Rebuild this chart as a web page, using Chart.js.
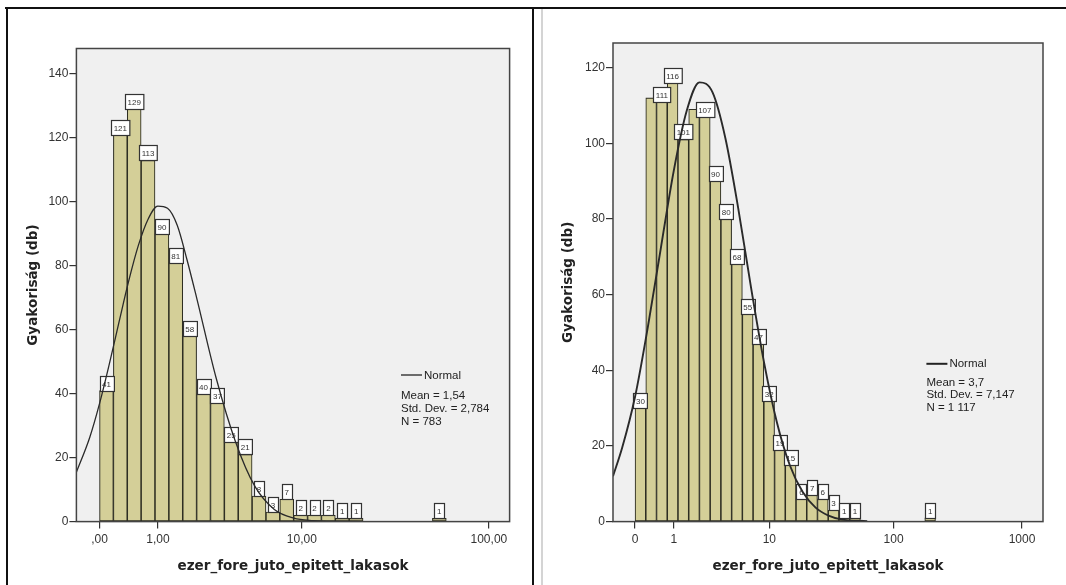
<!DOCTYPE html>
<html><head><meta charset="utf-8">
<script src="https://cdn.jsdelivr.net/npm/chart.js@4.4.1/dist/chart.umd.min.js"></script>
<style>
html,body{margin:0;padding:0;background:#fff;width:1066px;height:585px;overflow:hidden;position:relative;}
canvas{position:absolute;top:0;}
#c1{left:0;}
#c2{left:540px;}
.ln{position:absolute;background:#111;}
</style></head><body>
<canvas id="c1" width="533" height="585"></canvas>
<canvas id="c2" width="526" height="585"></canvas>
<div class="ln" style="left:5px;top:7px;width:1061px;height:2px"></div>
<div class="ln" style="left:6px;top:7px;width:2px;height:578px"></div>
<div class="ln" style="left:532px;top:7px;width:2px;height:578px"></div>
<div class="ln" style="left:541px;top:9px;width:2px;height:576px;background:#d4d4d4"></div>
<script>
// ---------- data ----------
const xTitle = 'ezer_fore_juto_epitett_lakasok';
const yTitle = 'Gyakoriság (db)';

// Left histogram (x axis is log10(1 + value))
const leftTickValues = [0, 1, 10, 100];
const leftTickLabels = [',00', '1,00', '10,00', '100,00'];
const leftBinWidth = 0.0714;
const leftCounts = [41, 121, 129, 113, 90, 81, 58, 40, 37, 25, 21, 8, 3, 7, 2, 2, 2, 1, 1, 0, 0, 0, 0, 0, 1];
const leftCurveT = [-0.12, -0.05, 0, 0.05, 0.1, 0.15, 0.2, 0.25, 0.3, 0.35, 0.4, 0.45, 0.5, 0.6, 0.7, 0.8, 0.9, 1.0, 1.1, 1.2, 1.4];
const leftCurveY = [15.3, 26.4, 36.9, 49.2, 62.3, 75.2, 86.4, 94.6, 98.7, 98.0, 92.7, 82, 70, 45, 25, 11, 3.8, 1.1, 0.3, 0.05, 0];
const leftStats = ['Mean = 1,54', 'Std. Dev. = 2,784', 'N = 783'];
const leftHiddenLabels = [];

// Right histogram
const rightTickValues = [0, 1, 10, 100, 1000];
const rightTickLabels = ['0', '1', '10', '100', '1000'];
const rightBinWidth = 0.0832;
const rightCounts = [30, 112, 111, 116, 101, 109, 107, 90, 80, 68, 55, 47, 32, 19, 15, 6, 7, 6, 3, 1, 1, 0, 0, 0, 0, 0, 0, 1];
const rightCurveT = [-0.171, -0.1, 0, 0.1, 0.2, 0.3, 0.4, 0.5, 0.6, 0.7, 0.8, 0.9, 1.0, 1.1, 1.2, 1.3, 1.4, 1.5, 1.6, 1.8];
const rightCurveY = [12, 19.5, 33, 51.6, 72.3, 92.7, 108.5, 116.1, 113.5, 101.4, 82.8, 61.7, 42.1, 26.2, 14.9, 7.8, 3.7, 1.6, 0.6, 0.1];
const rightStats = ['Mean = 3,7', 'Std. Dev. = 7,147', 'N = 1 117'];
const rightHiddenLabels = [1, 5];

const legendLabel = 'Normal';

// ---------- plugins ----------
const barLabels = {
  id: 'barLabels',
  afterDatasetDraw(chart, args, opts) {
    if (args.index !== 0) return;
    const ctx = chart.ctx;
    const ds = chart.data.datasets[0].data;
    ctx.save();
    ctx.font = '8px "Liberation Sans", Arial, sans-serif';
    args.meta.data.forEach((bar, i) => {
      const p = ds[i];
      if (opts.hidden.includes(p.bin)) return;
      const txt = String(p.y);
      const w = Math.max(ctx.measureText(txt).width + 5, 10);
      const h = 15;
      const x = Math.round(bar.x - w / 2) + 0.5;
      const y = Math.round(bar.y - h) + 0.5;
      ctx.fillStyle = '#fff';
      ctx.fillRect(x, y, w, h);
      ctx.strokeStyle = '#333';
      ctx.lineWidth = 1.2;
      ctx.strokeRect(x, y, w, h);
      ctx.fillStyle = '#333';
      ctx.textAlign = 'center';
      ctx.textBaseline = 'middle';
      ctx.fillText(txt, bar.x, y + h / 2 + 0.5);
    });
    ctx.restore();
  }
};

const frame = {
  id: 'frame',
  beforeDraw(chart) {
    const {ctx, chartArea: a} = chart;
    ctx.save();
    ctx.fillStyle = '#f0f0f0';
    ctx.fillRect(a.left, a.top, a.right - a.left, a.bottom - a.top);
    ctx.restore();
  },
  afterDraw(chart, args, opts) {
    const {ctx, chartArea: a} = chart;
    ctx.save();
    ctx.strokeStyle = '#444';
    ctx.lineWidth = 1.5;
    ctx.strokeRect(a.left, a.top, a.right - a.left, a.bottom - a.top);
    // legend
    const lx = opts.lx, ly = opts.ly;
    ctx.strokeStyle = '#222';
    ctx.lineWidth = opts.lw;
    ctx.beginPath(); ctx.moveTo(lx, ly); ctx.lineTo(lx + 21, ly); ctx.stroke();
    ctx.fillStyle = '#222';
    ctx.font = '11.5px "Liberation Sans", Arial, sans-serif';
    ctx.textAlign = 'left';
    ctx.textBaseline = 'middle';
    ctx.fillText(legendLabel, lx + 23, ly + 0.5);
    opts.stats.forEach((s, i) => ctx.fillText(s, lx, opts.sy + i * opts.sdy));
    ctx.restore();
  }
};

// ---------- builder ----------
function build(id, cfg) {
  const tf = v => Math.log10(1 + v);
  const bars = cfg.counts.map((c, i) => ({x: (i + 0.5) * cfg.binWidth, y: c, bin: i})).filter(p => p.y > 0);
  const curve = cfg.curveT.map((t, i) => ({x: t, y: cfg.curveY[i]}));
  const W = cfg.W, H = 585;
  return new Chart(document.getElementById(id), {
    data: {
      datasets: [
        {type: 'bar', data: bars, backgroundColor: '#d4cf98', borderColor: '#2e2e22', borderWidth: 1.1,
         barPercentage: 1, categoryPercentage: 1, order: 1, borderSkipped: false},
        {type: 'line', data: curve, borderColor: '#2a2a2a', borderWidth: cfg.lw, pointRadius: 0,
         cubicInterpolationMode: 'monotone', fill: false, order: 0}
      ]
    },
    options: {
      responsive: false, animation: false, devicePixelRatio: 1,
      layout: {padding: {left: 0, right: W - cfg.area.right, top: cfg.area.top, bottom: 0}},
      plugins: {legend: {display: false}, tooltip: {enabled: false},
        barLabels: {hidden: cfg.hidden},
        frame: {lx: cfg.lx, ly: cfg.ly, sy: cfg.sy, sdy: cfg.sdy, stats: cfg.stats, lw: cfg.legLw}},
      scales: {
        x: {
          type: 'linear', min: cfg.xMin, max: cfg.xMax, offset: false,
          afterBuildTicks: s => { s.ticks = cfg.tickValues.map(v => ({value: tf(v)})); },
          afterFit: s => { s.height = H - cfg.area.bottom; },
          ticks: {callback: (v, i) => cfg.tickLabels[i], color: '#333', padding: 4, maxRotation: 0, autoSkip: false,
                  font: {family: '"Liberation Sans", Arial, sans-serif', size: 12}},
          grid: {offset: false, drawOnChartArea: false, drawTicks: true, tickLength: 7, color: '#333', lineWidth: 1.2},
          border: {display: false},
          title: {display: true, text: xTitle, color: '#222', padding: {top: 0, bottom: 10.9},
                  font: {family: '"DejaVu Sans", Verdana, sans-serif', size: 13.5, weight: 'bold'}}
        },
        y: {
          type: 'linear', min: 0, max: cfg.yMax,
          afterFit: s => { s.width = cfg.area.left; },
          ticks: {stepSize: 20, includeBounds: false, color: '#333', padding: 1,
                  font: {family: '"Liberation Sans", Arial, sans-serif', size: 12}},
          grid: {offset: false, drawOnChartArea: false, drawTicks: true, tickLength: 7, color: '#333', lineWidth: 1.2},
          border: {display: false},
          title: {display: true, text: yTitle, color: '#222', padding: {top: cfg.yTitlePad, bottom: 0},
                  font: {family: '"DejaVu Sans", Verdana, sans-serif', size: 13.5, weight: 'bold'}}
        }
      }
    },
    plugins: [frame, barLabels]
  });
}

build('c1', {
  W: 533, counts: leftCounts, binWidth: leftBinWidth, curveT: leftCurveT, curveY: leftCurveY,
  tickValues: leftTickValues, tickLabels: leftTickLabels, xMin: -0.119, xMax: 2.111, yMax: 148,
  area: {left: 76.4, right: 509.6, top: 48.5, bottom: 521.6}, yTitlePad: 24.9, lw: 1.3, legLw: 1.3,
  hidden: leftHiddenLabels, stats: leftStats, lx: 401, ly: 375, sy: 395.5, sdy: 13
});
build('c2', {
  W: 526, counts: rightCounts, binWidth: rightBinWidth, curveT: rightCurveT, curveY: rightCurveY,
  tickValues: rightTickValues, tickLabels: rightTickLabels, xMin: -0.171, xMax: 3.163, yMax: 126.5,
  area: {left: 73, right: 503, top: 43, bottom: 521.6}, yTitlePad: 20.4, lw: 1.9, legLw: 2,
  hidden: rightHiddenLabels, stats: rightStats, lx: 386.4, ly: 363.8, sy: 382.5, sdy: 12.5
});
</script>
</body></html>
